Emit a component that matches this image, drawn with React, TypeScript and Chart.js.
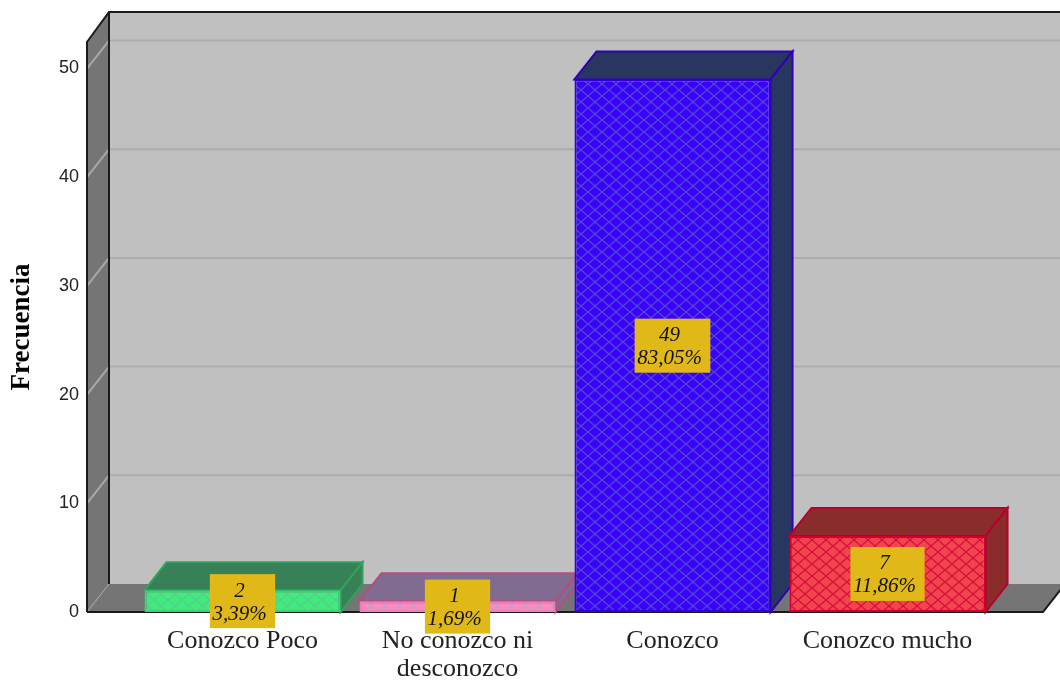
import React, { useEffect, useRef } from "react";
import { Chart, registerables } from "chart.js";

Chart.register(...registerables);

const categories: (string | string[])[] = ["Conozco Poco", ["No conozco ni", "desconozco"], "Conozco", "Conozco mucho"];
const frequencies = [2, 1, 49, 7];
const percentages = ["3,39%", "1,69%", "83,05%", "11,86%"];
const yTop = 52.44;
const yStep = 10;
const yTitle = "Frecuencia";

const faceColors = ["#3DEB7E", "#FF8ABF", "#3C00FF", "#F0454D"];
const hatchColors = ["#62C98C", "#B4A4D4", "#4A50C8", "#D80C3C"];
const depthColors = ["#388057", "#806C90", "#27375F", "#8B2C2C"];
const edgeColors = ["#2FA35C", "#B05080", "#3000B8", "#B8002C"];
const frontEdgeColors = ["#3AD276", "#F080B4", "#3400E0", "#D00030"];

const DX = 22;
const DY = 28;
const SIDE_PAD = 48;

function hatch(ctx: CanvasRenderingContext2D, base: string, line: string) {
  const w = 14;
  const h = 12;
  const c = document.createElement("canvas");
  c.width = w;
  c.height = h;
  const t = c.getContext("2d")!;
  t.fillStyle = base;
  t.fillRect(0, 0, w, h);
  t.strokeStyle = line;
  t.lineWidth = 1.3;
  t.beginPath();
  t.moveTo(-w, -h);
  t.lineTo(2 * w, 2 * h);
  t.moveTo(2 * w, -h);
  t.lineTo(-w, 2 * h);
  t.stroke();
  return ctx.createPattern(c, "repeat")!;
}

function poly(ctx: CanvasRenderingContext2D, pts: number[][]) {
  ctx.beginPath();
  pts.forEach((p, i) => (i ? ctx.lineTo(p[0], p[1]) : ctx.moveTo(p[0], p[1])));
  ctx.closePath();
}

const box3d = {
  id: "box3d",
  beforeDraw(chart: any) {
    const { ctx, chartArea, scales } = chart;
    const l = chartArea.left - SIDE_PAD;
    const r = chartArea.right + SIDE_PAD;
    const t = chartArea.top;
    const b = chartArea.bottom;
    ctx.save();
    ctx.fillStyle = "#C0C0C0";
    ctx.fillRect(l + DX, t - DY - 2, r - l, b - t + 2);
    ctx.fillStyle = "#757575";
    poly(ctx, [[l, t], [l + DX, t - DY - 2], [l + DX, b - DY], [l, b]]);
    ctx.fill();
    poly(ctx, [[l, b], [l + DX, b - DY], [r + DX, b - DY], [r, b]]);
    ctx.fill();
    ctx.lineWidth = 2;
    for (const tick of scales.y.ticks) {
      if (tick.value === 0) continue;
      const y = scales.y.getPixelForValue(tick.value);
      ctx.strokeStyle = "#ADADAD";
      ctx.beginPath();
      ctx.moveTo(l + DX, y - DY);
      ctx.lineTo(r + DX, y - DY);
      ctx.stroke();
      ctx.strokeStyle = "#A8A8A8";
      ctx.beginPath();
      ctx.moveTo(l, y);
      ctx.lineTo(l + DX, y - DY);
      ctx.stroke();
    }
    ctx.lineWidth = 1;
    ctx.strokeStyle = "#A8A8A8";
    ctx.beginPath();
    ctx.moveTo(l, b);
    ctx.lineTo(l + DX, b - DY);
    ctx.stroke();
    ctx.strokeStyle = "#1A1A1A";
    ctx.lineWidth = 2;
    ctx.beginPath();
    ctx.moveTo(l, b);
    ctx.lineTo(l, t);
    ctx.lineTo(l + DX, t - DY - 2);
    ctx.lineTo(r + DX, t - DY - 2);
    ctx.moveTo(l + DX, t - DY - 2);
    ctx.lineTo(l + DX, b - DY);
    ctx.moveTo(l, b);
    ctx.lineTo(r, b);
    ctx.lineTo(r + DX, b - DY);
    ctx.stroke();
    ctx.restore();
  },
  beforeDatasetsDraw(chart: any) {
    const { ctx } = chart;
    const bars = chart.getDatasetMeta(0).data;
    ctx.save();
    ctx.lineWidth = 2;
    bars.forEach((el: any, i: number) => {
      const { x, y, base, width } = el.getProps(["x", "y", "base", "width"], true);
      const a = x - width / 2;
      const c = x + width / 2;
      ctx.fillStyle = depthColors[i];
      ctx.strokeStyle = edgeColors[i];
      poly(ctx, [[a, y], [a + DX, y - DY], [c + DX, y - DY], [c, y]]);
      ctx.fill();
      ctx.stroke();
      poly(ctx, [[c, y], [c + DX, y - DY], [c + DX, base - DY], [c, base]]);
      ctx.fill();
      ctx.stroke();
    });
    ctx.restore();
  },
  afterDatasetsDraw(chart: any) {
    const { ctx, scales } = chart;
    const bars = chart.getDatasetMeta(0).data;
    ctx.save();
    ctx.font = "italic 21px 'Liberation Serif'";
    ctx.textAlign = "center";
    ctx.textBaseline = "middle";
    bars.forEach((el: any, i: number) => {
      const x = el.x;
      const y = scales.y.getPixelForValue(frequencies[i] / 2);
      const w = ctx.measureText(percentages[i]).width + 11;
      const h = 54;
      ctx.fillStyle = "#E0B818";
      ctx.fillRect(x - w / 2, y - h / 2, w, h);
      ctx.fillStyle = "#111111";
      ctx.fillText(String(frequencies[i]), x - 3, y - 10);
      ctx.fillText(percentages[i], x - 3, y + 13);
    });
    ctx.restore();
  },
};

export default function App() {
  const ref = useRef<HTMLCanvasElement>(null);
  useEffect(() => {
    const canvas = ref.current!;
    const ctx = canvas.getContext("2d")!;
    const fills = faceColors.map((c, i) => hatch(ctx, c, hatchColors[i]));
    const chart = new Chart(canvas, {
      type: "bar",
      data: {
        labels: categories as any,
        datasets: [
          {
            data: frequencies,
            backgroundColor: fills as any,
            borderColor: frontEdgeColors,
            borderWidth: 2,
            borderSkipped: false,
            barPercentage: 0.912,
            categoryPercentage: 1,
          },
        ],
      },
      options: {
        responsive: false,
        animation: false,
        devicePixelRatio: 1,
        layout: { autoPadding: false, padding: { top: 42, right: 65, left: 0, bottom: 0 } },
        plugins: { legend: { display: false }, tooltip: { enabled: false } },
        scales: {
          x: {
            grid: { display: false },
            border: { display: false },
            ticks: {
              padding: 7,
              color: "#222222",
              maxRotation: 0,
              autoSkip: false,
              font: { family: "'Liberation Serif'", size: 26, lineHeight: 1.07 },
            },
            afterFit(s: any) {
              s.height = 68;
              s.paddingLeft = s.paddingRight = s.paddingTop = s.paddingBottom = 0;
            },
          },
          y: {
            min: 0,
            max: yTop,
            grid: { display: false },
            border: { display: false },
            title: {
              display: true,
              text: yTitle,
              color: "#000000",
              padding: { top: 6, bottom: 0 },
              font: { family: "'Liberation Serif'", size: 27, weight: "bold" },
            },
            ticks: {
              stepSize: yStep,
              includeBounds: false,
              padding: 48,
              color: "#222222",
              font: { family: "'Liberation Sans'", size: 18 },
            },
            afterFit(s: any) {
              s.width = 135;
              s.paddingLeft = s.paddingRight = s.paddingTop = s.paddingBottom = 0;
            },
          },
        },
      } as any,
      plugins: [box3d],
    });
    return () => chart.destroy();
  }, []);
  return (
    <canvas
      ref={ref}
      width={1060}
      height={680}
      style={{ position: "fixed", left: 0, top: 0, display: "block" }}
    />
  );
}
